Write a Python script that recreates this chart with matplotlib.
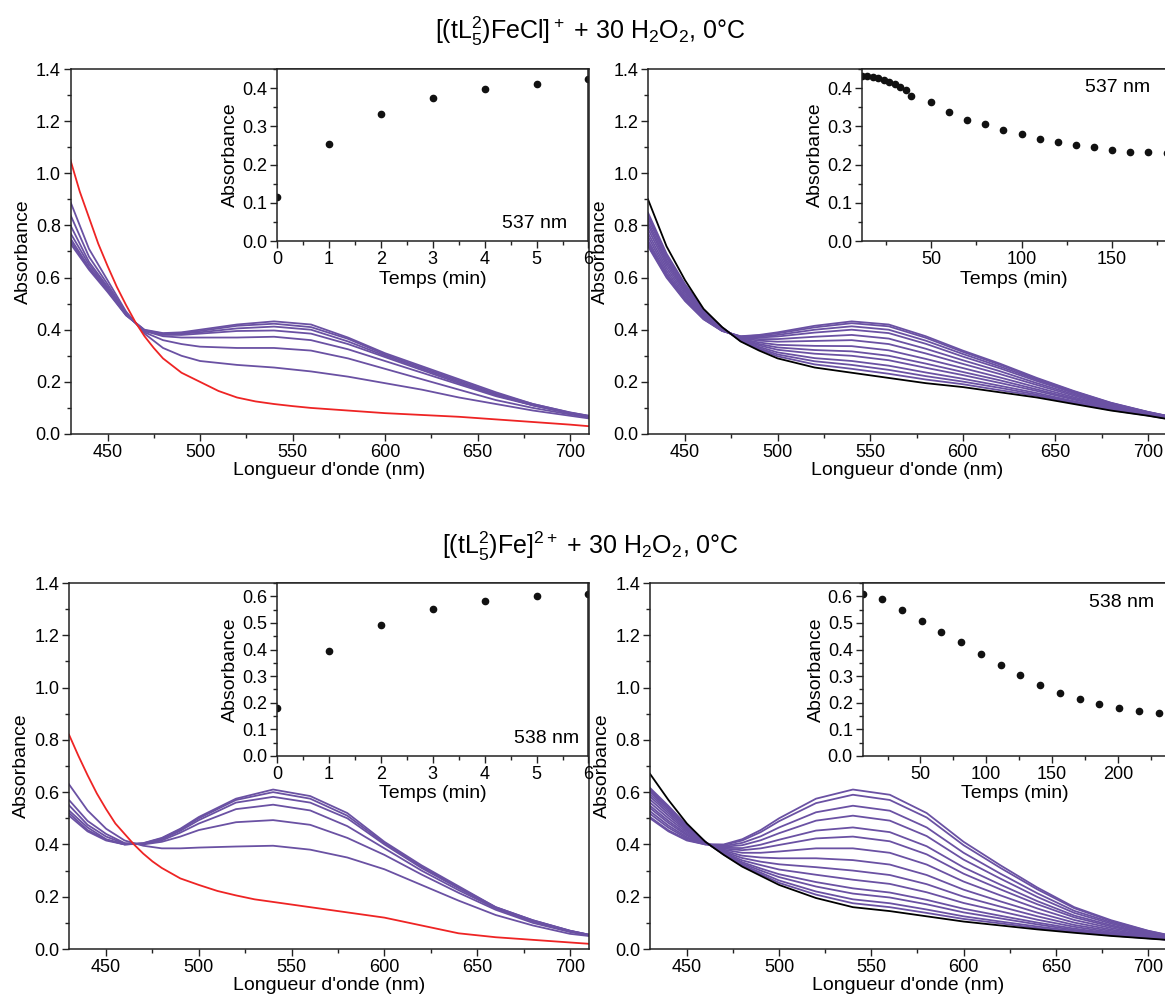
import matplotlib
matplotlib.use("Agg")
from matplotlib import pyplot as plt
from matplotlib.ticker import MultipleLocator, FormatStrFormatter

plt.rcParams['font.family'] = ['Liberation Sans', 'DejaVu Sans']
plt.rcParams['mathtext.fontset'] = 'custom'
plt.rcParams['mathtext.rm'] = 'Liberation Sans'
plt.rcParams['mathtext.it'] = 'Liberation Sans:italic'

PURPLE = '#6a51a3'
RED = '#ee2424'

# wavelength grid (nm) used for the purple / black spectra
wl = [430, 440, 450, 460, 470, 480, 490, 500, 520, 540, 560, 580, 600, 620, 640, 660, 680, 700, 710]
# finer grid for the steep red starting spectra
wl_red = [430, 435, 440, 445, 450, 455, 460, 465, 470, 475, 480, 490, 500, 510, 520, 530, 540, 550, 560,
          580, 600, 620, 640, 660, 680, 700, 710]

# --- [(tL5^2)FeCl]+ : formation (top left)
tl_red = [1.05, 0.93, 0.83, 0.73, 0.645, 0.565, 0.495, 0.43, 0.375, 0.33, 0.29, 0.235, 0.20, 0.165, 0.14,
          0.125, 0.115, 0.107, 0.10, 0.09, 0.08, 0.073, 0.066, 0.056, 0.046, 0.036, 0.03]
tl_purple = [
    [0.89, 0.71, 0.59, 0.47, 0.385, 0.33, 0.30, 0.28, 0.265, 0.255, 0.24, 0.22, 0.195, 0.17, 0.14, 0.115, 0.09, 0.07, 0.06],
    [0.84, 0.68, 0.575, 0.465, 0.39, 0.36, 0.345, 0.335, 0.33, 0.33, 0.32, 0.29, 0.25, 0.21, 0.17, 0.13, 0.10, 0.075, 0.065],
    [0.80, 0.66, 0.565, 0.46, 0.395, 0.375, 0.37, 0.37, 0.37, 0.373, 0.36, 0.325, 0.28, 0.235, 0.19, 0.145, 0.11, 0.08, 0.065],
    [0.77, 0.65, 0.56, 0.46, 0.395, 0.38, 0.38, 0.385, 0.395, 0.397, 0.385, 0.345, 0.295, 0.245, 0.195, 0.15, 0.11, 0.08, 0.068],
    [0.75, 0.64, 0.555, 0.458, 0.397, 0.383, 0.385, 0.39, 0.405, 0.412, 0.40, 0.355, 0.30, 0.25, 0.20, 0.15, 0.11, 0.08, 0.068],
    [0.74, 0.635, 0.55, 0.456, 0.398, 0.385, 0.388, 0.395, 0.415, 0.423, 0.41, 0.365, 0.305, 0.255, 0.205, 0.155, 0.115, 0.082, 0.07],
    [0.73, 0.63, 0.545, 0.455, 0.40, 0.387, 0.39, 0.40, 0.42, 0.432, 0.42, 0.37, 0.31, 0.26, 0.21, 0.16, 0.115, 0.083, 0.07],
]
tl_time = [0, 1, 2, 3, 4, 5, 6]
tl_abs = [0.115, 0.254, 0.332, 0.373, 0.397, 0.412, 0.423]

# --- [(tL5^2)FeCl]+ : decay (top right)
tr_black = [0.90, 0.72, 0.59, 0.48, 0.41, 0.355, 0.32, 0.29, 0.255, 0.235, 0.215, 0.195, 0.18, 0.16, 0.14, 0.115, 0.09, 0.07, 0.058]
tr_purple = [
    [0.72, 0.60, 0.51, 0.44, 0.395, 0.375, 0.38, 0.39, 0.415, 0.432, 0.42, 0.375, 0.32, 0.27, 0.215, 0.165, 0.12, 0.085, 0.07],
    [0.725, 0.604, 0.513, 0.441, 0.396, 0.374, 0.378, 0.386, 0.409, 0.425, 0.413, 0.369, 0.315, 0.266, 0.212, 0.163, 0.119, 0.084, 0.07],
    [0.733, 0.610, 0.517, 0.444, 0.396, 0.373, 0.374, 0.380, 0.400, 0.413, 0.400, 0.358, 0.307, 0.259, 0.208, 0.160, 0.117, 0.084, 0.069],
    [0.743, 0.616, 0.521, 0.446, 0.397, 0.372, 0.370, 0.374, 0.389, 0.400, 0.387, 0.346, 0.297, 0.252, 0.203, 0.157, 0.115, 0.083, 0.068],
    [0.757, 0.626, 0.528, 0.451, 0.399, 0.370, 0.364, 0.364, 0.373, 0.380, 0.366, 0.327, 0.283, 0.241, 0.195, 0.152, 0.112, 0.081, 0.067],
    [0.771, 0.637, 0.536, 0.455, 0.400, 0.368, 0.358, 0.354, 0.357, 0.360, 0.345, 0.309, 0.269, 0.230, 0.188, 0.147, 0.109, 0.080, 0.066],
    [0.787, 0.648, 0.544, 0.459, 0.402, 0.365, 0.351, 0.342, 0.338, 0.337, 0.321, 0.288, 0.253, 0.217, 0.179, 0.141, 0.106, 0.078, 0.064],
    [0.802, 0.658, 0.551, 0.463, 0.404, 0.363, 0.345, 0.332, 0.322, 0.317, 0.300, 0.270, 0.238, 0.206, 0.171, 0.136, 0.102, 0.076, 0.063],
    [0.814, 0.667, 0.557, 0.467, 0.405, 0.362, 0.340, 0.323, 0.308, 0.300, 0.283, 0.254, 0.226, 0.196, 0.165, 0.132, 0.100, 0.075, 0.062],
    [0.828, 0.677, 0.564, 0.471, 0.407, 0.360, 0.334, 0.313, 0.291, 0.280, 0.262, 0.236, 0.212, 0.185, 0.157, 0.126, 0.097, 0.073, 0.061],
    [0.839, 0.685, 0.569, 0.474, 0.408, 0.358, 0.329, 0.305, 0.279, 0.265, 0.246, 0.222, 0.201, 0.177, 0.151, 0.123, 0.095, 0.072, 0.060],
    [0.849, 0.692, 0.575, 0.477, 0.409, 0.357, 0.325, 0.298, 0.267, 0.250, 0.231, 0.209, 0.191, 0.168, 0.146, 0.119, 0.092, 0.071, 0.059],
]
tr_time = [12, 15, 18, 21, 24, 27, 30, 33, 36, 39, 50, 60, 70, 80, 90, 100, 110, 120, 130, 140, 150, 160, 170, 180]
tr_abs = [0.432, 0.431, 0.430, 0.426, 0.420, 0.415, 0.410, 0.404, 0.395, 0.380, 0.363, 0.337, 0.317, 0.307,
          0.290, 0.281, 0.266, 0.260, 0.250, 0.245, 0.238, 0.233, 0.233, 0.230]

# --- [(tL5^2)Fe]2+ : formation (bottom left)
bl_red = [0.82, 0.74, 0.665, 0.595, 0.535, 0.48, 0.44, 0.40, 0.365, 0.335, 0.31, 0.27, 0.245, 0.222, 0.205,
          0.19, 0.18, 0.17, 0.16, 0.14, 0.12, 0.09, 0.06, 0.045, 0.035, 0.025, 0.02]
bl_purple = [
    [0.63, 0.53, 0.46, 0.415, 0.395, 0.385, 0.385, 0.388, 0.392, 0.395, 0.38, 0.35, 0.305, 0.245, 0.185, 0.13, 0.09, 0.058, 0.05],
    [0.57, 0.49, 0.44, 0.405, 0.40, 0.41, 0.43, 0.455, 0.485, 0.493, 0.475, 0.425, 0.36, 0.285, 0.215, 0.15, 0.10, 0.065, 0.052],
    [0.55, 0.475, 0.43, 0.403, 0.402, 0.415, 0.445, 0.48, 0.535, 0.552, 0.53, 0.47, 0.385, 0.30, 0.225, 0.155, 0.105, 0.068, 0.054],
    [0.53, 0.465, 0.42, 0.40, 0.403, 0.42, 0.452, 0.493, 0.56, 0.582, 0.56, 0.50, 0.40, 0.31, 0.232, 0.158, 0.108, 0.069, 0.055],
    [0.52, 0.455, 0.418, 0.40, 0.404, 0.423, 0.457, 0.50, 0.57, 0.60, 0.575, 0.51, 0.405, 0.315, 0.236, 0.16, 0.11, 0.07, 0.055],
    [0.51, 0.45, 0.415, 0.40, 0.405, 0.425, 0.46, 0.505, 0.575, 0.61, 0.585, 0.52, 0.41, 0.32, 0.24, 0.16, 0.11, 0.07, 0.055],
]
bl_time = [0, 1, 2, 3, 4, 5, 6]
bl_abs = [0.18, 0.395, 0.493, 0.552, 0.582, 0.600, 0.610]

# --- [(tL5^2)Fe]2+ : decay (bottom right)
br_black = [0.67, 0.57, 0.48, 0.41, 0.36, 0.315, 0.28, 0.245, 0.195, 0.16, 0.145, 0.125, 0.105, 0.09, 0.075, 0.062, 0.05, 0.04, 0.035]
br_purple = [
    [0.50, 0.45, 0.415, 0.40, 0.40, 0.42, 0.455, 0.50, 0.575, 0.61, 0.59, 0.52, 0.41, 0.32, 0.235, 0.16, 0.11, 0.07, 0.055],
    [0.505, 0.454, 0.418, 0.40, 0.398, 0.415, 0.447, 0.489, 0.558, 0.59, 0.57, 0.503, 0.397, 0.31, 0.228, 0.156, 0.107, 0.069, 0.054],
    [0.517, 0.464, 0.423, 0.401, 0.394, 0.406, 0.431, 0.465, 0.523, 0.548, 0.529, 0.465, 0.368, 0.288, 0.213, 0.146, 0.102, 0.066, 0.052],
    [0.527, 0.472, 0.428, 0.402, 0.391, 0.397, 0.416, 0.443, 0.491, 0.51, 0.491, 0.432, 0.342, 0.269, 0.199, 0.138, 0.097, 0.063, 0.051],
    [0.539, 0.482, 0.434, 0.403, 0.387, 0.386, 0.399, 0.418, 0.453, 0.465, 0.447, 0.393, 0.312, 0.246, 0.183, 0.128, 0.091, 0.06, 0.049],
    [0.548, 0.49, 0.439, 0.404, 0.384, 0.378, 0.385, 0.398, 0.423, 0.43, 0.412, 0.362, 0.288, 0.228, 0.171, 0.121, 0.086, 0.058, 0.047],
    [0.56, 0.50, 0.445, 0.405, 0.38, 0.368, 0.368, 0.373, 0.385, 0.385, 0.368, 0.323, 0.258, 0.205, 0.155, 0.111, 0.08, 0.055, 0.045],
    [0.572, 0.51, 0.451, 0.406, 0.376, 0.357, 0.35, 0.347, 0.347, 0.34, 0.323, 0.283, 0.227, 0.182, 0.139, 0.101, 0.074, 0.052, 0.043],
    [0.583, 0.519, 0.456, 0.407, 0.372, 0.348, 0.334, 0.324, 0.313, 0.30, 0.283, 0.248, 0.20, 0.162, 0.125, 0.092, 0.069, 0.049, 0.041],
    [0.592, 0.527, 0.461, 0.408, 0.369, 0.339, 0.321, 0.304, 0.284, 0.265, 0.249, 0.217, 0.176, 0.144, 0.112, 0.085, 0.064, 0.047, 0.04],
    [0.601, 0.534, 0.465, 0.408, 0.366, 0.332, 0.308, 0.286, 0.256, 0.232, 0.216, 0.188, 0.154, 0.127, 0.101, 0.078, 0.06, 0.045, 0.038],
    [0.606, 0.538, 0.468, 0.409, 0.365, 0.327, 0.30, 0.275, 0.239, 0.212, 0.197, 0.171, 0.14, 0.117, 0.094, 0.073, 0.057, 0.043, 0.037],
    [0.612, 0.543, 0.471, 0.409, 0.363, 0.322, 0.292, 0.262, 0.22, 0.19, 0.175, 0.151, 0.125, 0.105, 0.086, 0.069, 0.054, 0.042, 0.036],
    [0.616, 0.547, 0.473, 0.41, 0.361, 0.318, 0.286, 0.253, 0.208, 0.175, 0.16, 0.138, 0.115, 0.098, 0.08, 0.065, 0.052, 0.041, 0.036],
]
br_time = [6, 21, 36, 51, 66, 81, 96, 111, 126, 141, 156, 171, 186, 201, 216, 231]
br_abs = [0.607, 0.590, 0.549, 0.507, 0.467, 0.430, 0.385, 0.341, 0.303, 0.265, 0.235, 0.215, 0.194, 0.179, 0.169, 0.161]

TICK = 13
LABEL = 14


def style_axes(ax):
    for s in ax.spines.values():
        s.set_linewidth(1.1)
        s.set_color('#222222')
    ax.tick_params(which='both', direction='out', top=False, right=False,
                   labelsize=TICK, color='#222222', width=1.0, pad=2)
    ax.tick_params(which='major', length=5)
    ax.tick_params(which='minor', length=3)


def spectra_panel(rect, curves, final, final_wl, final_color):
    ax = fig.add_axes(rect)
    for c in curves:
        ax.plot(wl, c, color=PURPLE, lw=1.3)
    ax.plot(final_wl, final, color=final_color, lw=1.3)
    ax.set_xlim(430, 710)
    ax.set_ylim(0, 1.4)
    ax.xaxis.set_major_locator(MultipleLocator(50))
    ax.xaxis.set_minor_locator(MultipleLocator(25))
    ax.yaxis.set_major_locator(MultipleLocator(0.2))
    ax.yaxis.set_minor_locator(MultipleLocator(0.1))
    ax.yaxis.set_major_formatter(FormatStrFormatter('%.1f'))
    ax.set_xlabel("Longueur d'onde (nm)", fontsize=LABEL, labelpad=1)
    ax.set_ylabel('Absorbance', fontsize=LABEL, labelpad=3)
    style_axes(ax)
    return ax


def inset_panel(rect, t, a, xlim, ylim, xmaj, xmin, label, label_pos):
    ax = fig.add_axes(rect)
    ax.plot(t, a, 'o', color='#111111', ms=4.5)
    ax.set_xlim(*xlim)
    ax.set_ylim(*ylim)
    ax.xaxis.set_major_locator(MultipleLocator(xmaj))
    ax.xaxis.set_minor_locator(MultipleLocator(xmin))
    ax.yaxis.set_major_locator(MultipleLocator(0.1))
    ax.yaxis.set_minor_locator(MultipleLocator(0.05))
    ax.yaxis.set_major_formatter(FormatStrFormatter('%.1f'))
    ax.set_xlabel('Temps (min)', fontsize=LABEL, labelpad=2)
    ax.set_ylabel('Absorbance', fontsize=LABEL, labelpad=2)
    ax.text(label_pos[0], label_pos[1], label, transform=ax.transAxes,
            fontsize=LABEL, ha='right', va='center')
    style_axes(ax)
    return ax


W, H = 1165, 1001
fig = plt.figure(figsize=(W / 100, H / 100), dpi=100)


def px(left, right, top, bottom):
    return [left / W, 1 - bottom / H, (right - left) / W, (bottom - top) / H]


fig.text(590 / W, 1 - 31 / H,
         r"[(tL$_5^2$)FeCl]$^+$ + 30 H$_2$O$_2$, 0°C", fontsize=18, ha='center', va='center')
fig.text(590 / W, 1 - 546 / H,
         r"[(tL$_5^2$)Fe]$^{2+}$ + 30 H$_2$O$_2$, 0°C", fontsize=18, ha='center', va='center')

spectra_panel(px(70.5, 588.5, 69, 434), tl_purple, tl_red, wl_red, RED)
inset_panel(px(277, 588.5, 69, 241), tl_time, tl_abs, (0, 6), (0, 0.45), 1, 0.5,
            '537 nm', (0.93, 0.10))

spectra_panel(px(648, 1166.5, 69, 434), tr_purple, tr_black, wl, 'black')
inset_panel(px(862, 1166.5, 69, 241), tr_time, tr_abs, (12, 180), (0, 0.45), 50, 25,
            '537 nm', (0.946, 0.89))

spectra_panel(px(69, 588.5, 583, 949), bl_purple, bl_red, wl_red, RED)
inset_panel(px(277, 588.5, 583, 756), bl_time, bl_abs, (0, 6), (0, 0.65), 1, 0.5,
            '538 nm', (0.97, 0.10))

spectra_panel(px(650, 1166.5, 583, 949), br_purple, br_black, wl, 'black')
inset_panel(px(862.5, 1166.5, 583, 756), br_time, br_abs, (6, 237), (0, 0.65), 50, 25,
            '538 nm', (0.959, 0.89))

fig.savefig('out.png', dpi=100)
